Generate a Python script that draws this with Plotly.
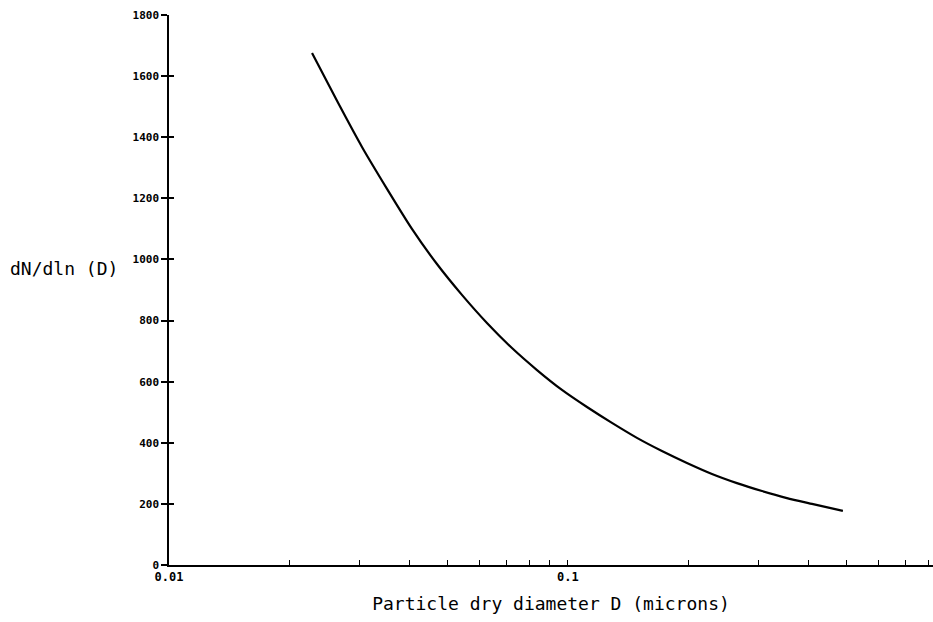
import plotly.graph_objects as go

# Data
diameter = [0.02283, 0.02637, 0.03046, 0.03519, 0.04064, 0.04695, 0.05423, 0.06266,
            0.07239, 0.08364, 0.0966, 0.1116, 0.1289, 0.1489, 0.1720, 0.1987,
            0.2296, 0.2652, 0.3064, 0.3539, 0.4089, 0.4888]
dn_dlnd = [1676, 1519, 1368, 1231, 1100, 985, 884, 792,
           710, 638, 573, 517, 465, 416, 373, 334,
           298, 268, 242, 219, 200, 177]

x_tick_vals = [0.01, 0.02, 0.03, 0.04, 0.05, 0.06, 0.07, 0.08, 0.09,
               0.1, 0.2, 0.3, 0.4, 0.5, 0.6, 0.7, 0.8]
x_tick_text = ["0.01", "", "", "", "", "", "", "", "",
               "0.1", "", "", "", "", "", "", ""]
y_tick_vals = [0, 200, 400, 600, 800, 1000, 1200, 1400, 1600, 1800]

mono = "DejaVu Sans Mono"

fig = go.Figure()
fig.add_trace(go.Scatter(
    x=diameter, y=dn_dlnd, mode="lines",
    line=dict(color="black", width=2.2, shape="spline", smoothing=0.6),
    hoverinfo="skip", showlegend=False,
))
# invisible companion trace so the inner-tick axis is drawn
fig.add_trace(go.Scatter(
    x=diameter, y=dn_dlnd, mode="lines", yaxis="y2",
    line=dict(color="rgba(0,0,0,0)", width=0),
    hoverinfo="skip", showlegend=False,
))

fig.update_layout(
    width=933, height=622,
    margin=dict(l=169, r=0, t=15, b=57),
    paper_bgcolor="white", plot_bgcolor="white",
    xaxis=dict(
        type="log", range=[-2, -0.085],
        tickvals=x_tick_vals, ticktext=x_tick_text,
        ticks="inside", ticklen=5, tickwidth=1.2, tickcolor="black",
        showline=True, linecolor="black", linewidth=1.5,
        showgrid=False, zeroline=False,
        tickfont=dict(family=mono, size=12, color="black", weight="bold"),
        title=dict(text="Particle dry diameter D (microns)",
                   font=dict(family=mono, size=18, color="black"), standoff=14),
    ),
    yaxis=dict(
        range=[0, 1800], tickvals=y_tick_vals,
        ticks="outside", ticklen=6, tickwidth=1.5, tickcolor="black",
        showline=True, linecolor="black", linewidth=1.5,
        showgrid=False, zeroline=False,
        tickfont=dict(family=mono, size=11, color="black", weight="bold"),
    ),
    yaxis2=dict(
        range=[0, 1800], tickvals=y_tick_vals, overlaying="y", side="left",
        anchor="x", ticks="inside", ticklen=5, tickwidth=1.5, tickcolor="black",
        showticklabels=False, showline=False, showgrid=False, zeroline=False,
    ),
    annotations=[dict(
        text="dN/dln (D)", xref="paper", yref="y", x=-0.2107, y=970,
        xanchor="left", yanchor="middle", showarrow=False,
        font=dict(family=mono, size=18, color="black"),
    )],
)

fig.write_html("out.html")
